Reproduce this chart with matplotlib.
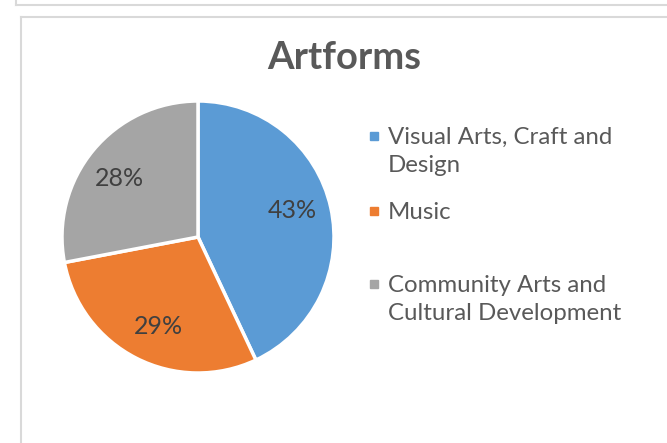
import numpy as np
import matplotlib.pyplot as plt
from matplotlib.patches import Rectangle

plt.rcParams['font.family'] = ['Lato', 'DejaVu Sans']

categories = ["Visual Arts, Craft and\nDesign", "Music", "Community Arts and\nCultural Development"]
values = [43, 29, 28]
pct_labels = ["43%", "29%", "28%"]
colors = ["#5B9BD5", "#ED7D31", "#A5A5A5"]

fig = plt.figure(figsize=(6.67, 4.43), dpi=100)
W, H = 667, 443

# frame lines from the screenshot
fig.add_artist(plt.Line2D([16 / W, 1], [1 - 5 / H, 1 - 5 / H], color="#d9d9d9", lw=1.5))
fig.add_artist(plt.Line2D([16 / W, 16 / W], [1, 1 - 5 / H], color="#d9d9d9", lw=1.5))
fig.add_artist(plt.Line2D([21 / W, 1], [1 - 17 / H, 1 - 17 / H], color="#d9d9d9", lw=1.5))
fig.add_artist(plt.Line2D([21 / W, 21 / W], [0, 1 - 17 / H], color="#d9d9d9", lw=1.5))

# pie axes: center (198, 237), radius 136 px
r = 136
ax = fig.add_axes([(198 - r) / W, 1 - (237 + r) / H, 2 * r / W, 2 * r / H])
wedges, _ = ax.pie(values, colors=colors, startangle=90, counterclock=False,
                   wedgeprops=dict(edgecolor="white", linewidth=2.5))
for w, lab in zip(wedges, pct_labels):
    ang = np.deg2rad((w.theta1 + w.theta2) / 2 + 3)
    ax.text(0.72 * np.cos(ang), 0.72 * np.sin(ang), lab, ha="center", va="center",
            fontsize=18, color="#404040")
ax.set_xlim(-1, 1)
ax.set_ylim(-1, 1)
ax.set_aspect("equal")

fig.text(344 / W, 1 - 58 / H, "Artforms", ha="center", va="center",
         fontsize=27.5, fontweight="bold", color="#595959")

# legend
ys = [136, 211, 284]
for y, lab, c in zip(ys, categories, colors):
    fig.add_artist(Rectangle((370 / W, 1 - (y + 4) / H), 8 / W, 8 / H, color=c,
                             transform=fig.transFigure))
    fig.text(388 / W, 1 - (y - 9) / H, lab, ha="left", va="top", fontsize=17.3,
             color="#595959", linespacing=1.4)

fig.savefig("out.png", dpi=100)
